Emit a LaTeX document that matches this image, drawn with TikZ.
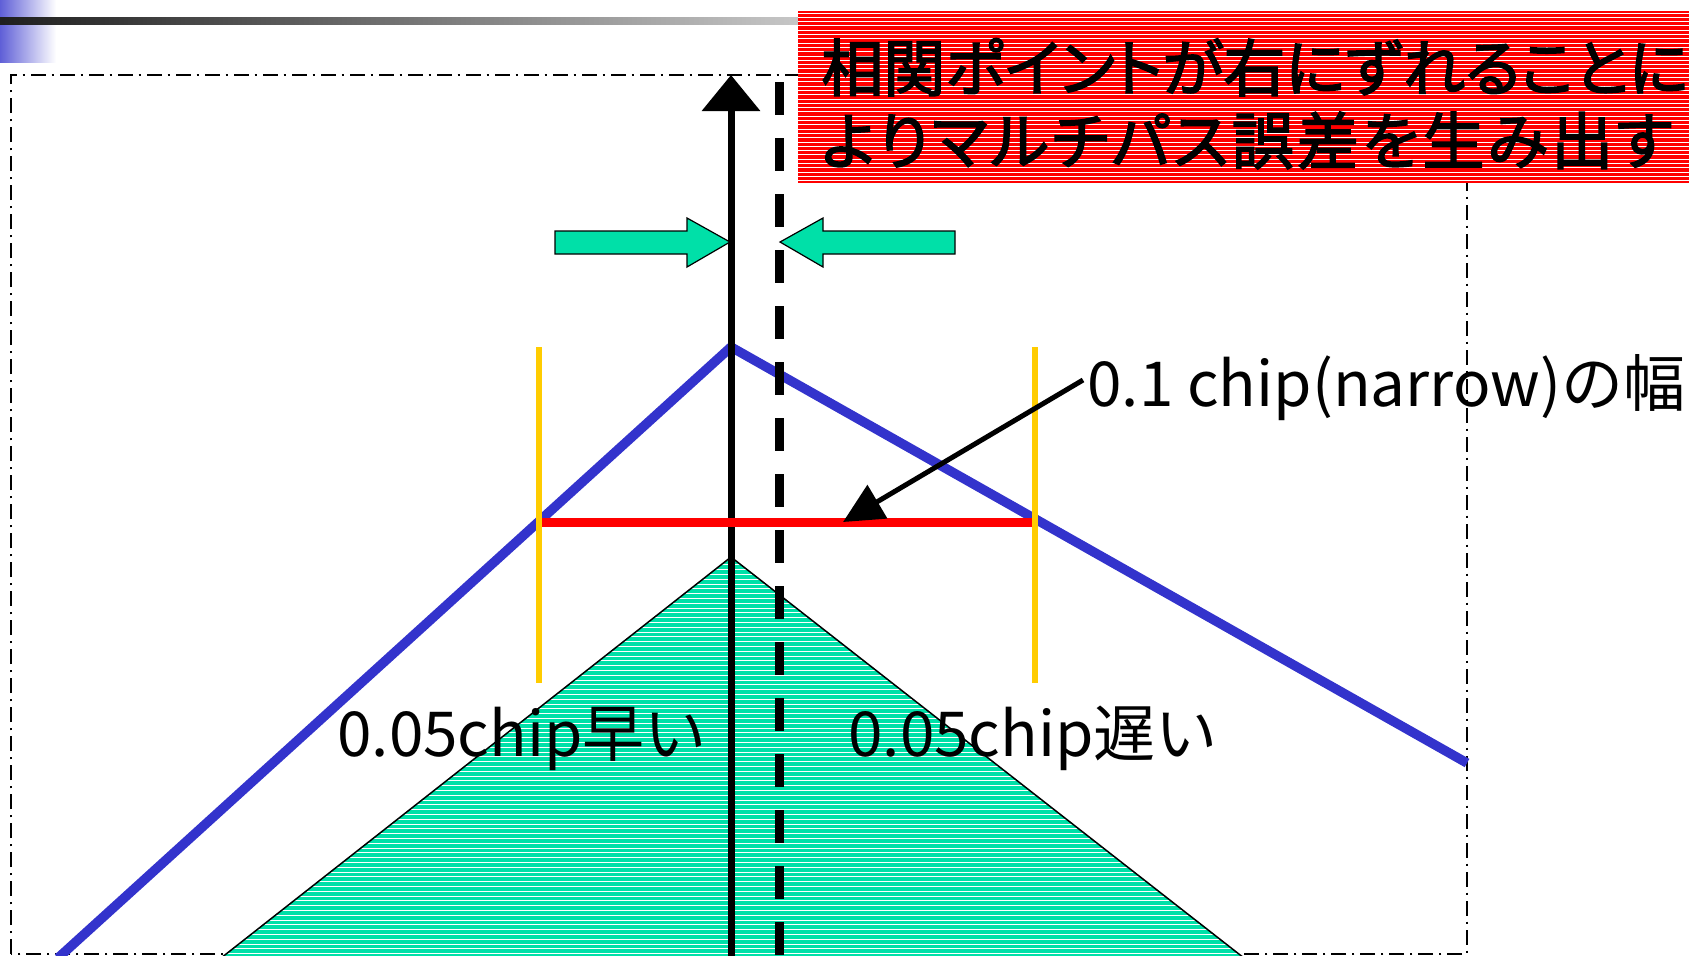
\documentclass[tikz,border=0pt]{standalone}
\usepackage{fontspec}
\newfontfamily\jp{Noto Sans CJK JP}
\newfontfamily\jpbox{Noto Sans CJK JP}[RawFeature=+palt, FakeBold=2.5]
\newfontfamily\jpboxw{Noto Sans CJK JP}[RawFeature=+palt, FakeBold=2.5, LetterSpace=5]
\usetikzlibrary{arrows.meta}
\definecolor{gfill}{RGB}{0,224,168}
\definecolor{bline}{RGB}{51,51,204}
\definecolor{yline}{RGB}{255,204,0}
\definecolor{rbox}{RGB}{255,0,0}
\tikzset{
  framestyle/.style={line width=0.75pt, dash pattern=on 7.5pt off 2.8pt on 1pt off 3.2pt},
  blueline/.style={bline, line width=4.75pt},
  axisline/.style={black, line width=3.5pt, -{Triangle[length=18pt,width=28.5pt]}},
  dashline/.style={black, line width=4.5pt, dash pattern=on 16.5pt off 11.5pt},
  redline/.style={rbox, line width=4.5pt},
  yellowline/.style={yline, line width=2.75pt},
  pointer/.style={black, line width=2.5pt, -{Triangle[length=20pt,width=19pt]}},
  garrow/.style={fill=gfill, draw=black, line width=0.6pt, line join=miter},
  lbl/.style={inner sep=0pt, anchor=base west, font=\jp\fontsize{31pt}{31pt}\selectfont},
  boxtext/.style={inner sep=0pt, anchor=base west, font=\jpbox\fontsize{31pt}{31pt}\selectfont},
  boxtextw/.style={inner sep=0pt, anchor=base west, font=\jpboxw\fontsize{31pt}{31pt}\selectfont}
}
\begin{document}
\begin{tikzpicture}[x=0.5pt,y=-0.5pt]
\useasboundingbox (0,0) rectangle (1689,955);

% header decorations
\shade[left color={rgb,255:red,95;green,95;blue,215}, right color=white] (0,0) rectangle (56,62);
\shade[left color=black!88, right color=black!22] (0,17) rectangle (800,24);

% frame
\draw[framestyle] (11,954) -- (11,75) -- (1467,75) -- (1467,954) -- cycle;

% green hatched triangle
\coordinate (tA) at (731,557);
\coordinate (tL) at (221,958);
\coordinate (tR) at (1244,958);
\fill[gfill] (tA) -- (tR) -- (tL) -- cycle;
\begin{scope}
  \clip (tA) -- (tR) -- (tL) -- cycle;
  \foreach \yy in {560,564.8,...,960} \draw[white, line width=0.5pt] (200,\yy) -- (1260,\yy);
\end{scope}
\draw[line width=0.75pt] (tL) -- (tA) -- (tR);

% blue correlation line
\coordinate (bL) at (58,958);
\coordinate (bP) at (731,347);
\coordinate (bR) at (1467,763);
\draw[blueline] (bL) -- (bP) -- (bR);

% axis and shifted dashed line
\coordinate (axBot) at (731,960);
\coordinate (axTop) at (731,75);
\draw[axisline] (axBot) -- (axTop);
\coordinate (dTop) at (779,82);
\coordinate (dBot) at (779,960);
\draw[dashline] (dTop) -- (dBot);

% width markers
\coordinate (yL1) at (539,347);
\coordinate (yL2) at (539,683);
\coordinate (yR1) at (1035,347);
\coordinate (yR2) at (1035,683);
\coordinate (rL) at (539,522);
\coordinate (rR) at (1035,522);
\draw[redline] (rL) -- (rR);
\draw[yellowline] (yL1) -- (yL2);
\draw[yellowline] (yR1) -- (yR2);

% green block arrows
\draw[garrow] (555,231) -- (687,231) -- (687,218) -- (730,242) -- (687,267) -- (687,254) -- (555,254) -- cycle;
\draw[garrow] (955,231) -- (823,231) -- (823,218) -- (780,242) -- (823,267) -- (823,254) -- (955,254) -- cycle;

% labels
\node[lbl] (narrow) at (1087,406) {0.1 chip(narrow)の幅};
\node[lbl] (early) at (337,756) {0.05chip早い};
\node[lbl] (late) at (848,756) {0.05chip遅い};

% pointer
\coordinate (pStart) at (1083,380);
\coordinate (pEnd) at (843,522);
\draw[pointer] (pStart) -- (pEnd);

% red hatched box
\fill[rbox] (798,11) rectangle (1689,183);
\foreach \yy in {13,17.3,...,183} \draw[white, line width=0.5pt] (798,\yy) -- (1689,\yy);
\node[boxtext] (msg1) at (821,91) {相関ポイントが右にずれることに};
\node[boxtextw] (msg2) at (821,164) {よりマルチパス誤差を生み出す};
\end{tikzpicture}
\end{document}
